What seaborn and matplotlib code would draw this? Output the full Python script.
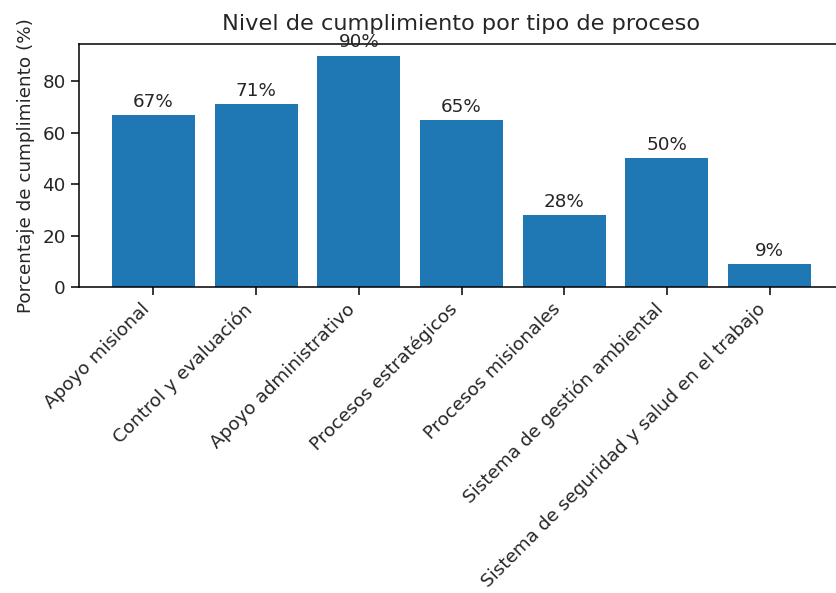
import matplotlib
matplotlib.use("Agg")
import matplotlib.pyplot as plt
import seaborn as sns
import pandas as pd

categorias = [
    "Apoyo misional",
    "Control y evaluación",
    "Apoyo administrativo",
    "Procesos estratégicos",
    "Procesos misionales",
    "Sistema de gestión ambiental",
    "Sistema de seguridad y salud en el trabajo",
]
cumplimiento = [67, 71, 90, 65, 28, 50, 9]
etiquetas = ["67%", "71%", "90%", "65%", "28%", "50%", "9%"]

df = pd.DataFrame({"proceso": categorias, "valor": cumplimiento})

plt.rcParams["font.family"] = ["DejaVu Sans"]
fig = plt.figure(figsize=(8.36, 5.93), dpi=100)
ax = fig.add_axes([79 / 836, 1 - 287 / 593, (844 - 79) / 836, (287 - 44) / 593])

sns.barplot(data=df, x="proceso", y="valor", color="#1f77b4", saturation=1,
            width=0.81, ax=ax, errorbar=None)
ax.set_xlim(-0.725, 6.725)
ax.set_ylim(0, 94.5)
ax.set_yticks([0, 20, 40, 60, 80])
for cont in ax.containers:
    ax.bar_label(cont, labels=etiquetas, fontsize=13.2, color="#262626", padding=3)

ax.set_title("Nivel de cumplimiento por tipo de proceso", fontsize=16.2,
             color="#262626", pad=10)
ax.set_xlabel("")
ax.set_ylabel("Porcentaje de cumplimiento (%)", fontsize=13.2, color="#262626",
              labelpad=5)
ax.tick_params(axis="both", labelsize=13.2, labelcolor="#262626", length=5.5,
               width=1.1, pad=4)
plt.setp(ax.get_xticklabels(), rotation=45, ha="right")
for s in ["left", "bottom", "top"]:
    ax.spines[s].set_linewidth(1.1)
ax.spines["right"].set_visible(False)

fig.savefig("out.png", dpi=100)
